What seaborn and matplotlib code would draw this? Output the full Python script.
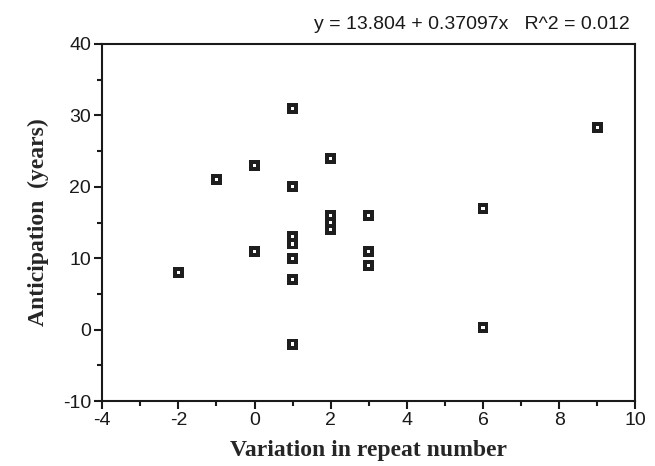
import matplotlib
matplotlib.use("Agg")
import matplotlib.pyplot as plt
from matplotlib.ticker import MultipleLocator
import pandas as pd
import seaborn as sns

# values
repeat_variation = [-2, -1, 0, 0, 1, 1, 1, 1, 1, 1, 1, 2, 2, 2, 2, 3, 3, 3, 6, 6, 9]
anticipation = [8, 21, 23, 11, 31, 20, 13, 12, 10, 7, -2, 24, 16, 15, 14, 16, 11, 9, 17, 0.3, 28.3]
fit_text = "y = 13.804 + 0.37097x   R^2 = 0.012"

df = pd.DataFrame({"x": repeat_variation, "y": anticipation})

sns.set_style("ticks")
plt.rcParams["font.family"] = ["Liberation Sans", "DejaVu Sans"]
plt.rcParams["axes.unicode_minus"] = False

fig = plt.figure(figsize=(6.55, 4.66), dpi=100)
ax = fig.add_axes([0.156, 0.139, 0.814, 0.767])

# black square with a small white centre, like the original markers
sns.scatterplot(data=df, x="x", y="y", ax=ax, marker="s", s=62,
                color="#1e1e1e", edgecolor="none", zorder=3)
sns.scatterplot(data=df, x="x", y="y", ax=ax, marker="s", s=5,
                color="white", edgecolor="none", zorder=4)

ax.set_xlim(-4, 10)
ax.set_ylim(-10, 40)
ax.xaxis.set_major_locator(MultipleLocator(2))
ax.xaxis.set_minor_locator(MultipleLocator(1))
ax.yaxis.set_major_locator(MultipleLocator(10))
ax.yaxis.set_minor_locator(MultipleLocator(5))

for s in ax.spines.values():
    s.set_linewidth(1.5)
    s.set_color("#1a1a1a")
ax.tick_params(which="major", length=6, width=1.5, labelsize=14, colors="#1a1a1a", pad=2)
ax.tick_params(which="minor", length=3.5, width=1.5, colors="#1a1a1a")

serif = {"family": ["Liberation Serif", "DejaVu Serif"], "weight": "bold", "size": 17}
ax.set_xlabel("Variation in repeat number", fontdict=serif, labelpad=8)
ax.set_ylabel("Anticipation  (years)", fontdict=serif, labelpad=10)

ax.text(0.99, 1.03, fit_text, transform=ax.transAxes, ha="right", va="bottom",
        fontsize=14, color="#1a1a1a")

fig.savefig("out.png", dpi=100)
